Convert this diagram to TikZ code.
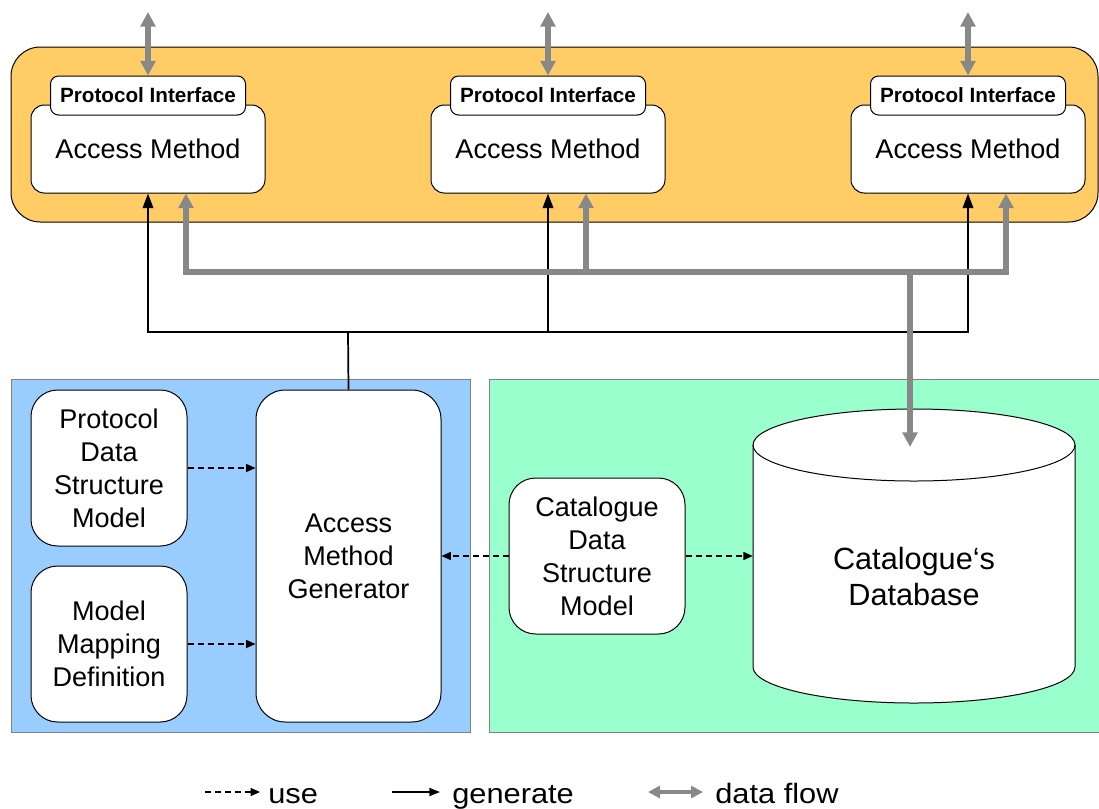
\documentclass[tikz,border=0pt]{standalone}
\usepackage{fontspec}
\setmainfont{Liberation Sans}
\usetikzlibrary{arrows.meta}
\definecolor{orangepanel}{RGB}{255,204,102}
\definecolor{bluepanel}{RGB}{153,204,255}
\definecolor{greenpanel}{RGB}{153,255,204}
\definecolor{flowgray}{RGB}{136,136,136}
\definecolor{panelborder}{RGB}{128,128,128}
\begin{document}
\begin{tikzpicture}[x=0.75pt,y=-0.75pt,
  ambox/.style={draw=black, fill=white, line width=0.75pt, rounded corners=10pt,
    minimum width=175.5pt, minimum height=66pt, inner sep=0pt,
    font=\fontsize{20.3}{24.75}\selectfont},
  pibox/.style={draw=black, fill=white, line width=0.75pt, rounded corners=6pt,
    minimum width=146.25pt, minimum height=29.25pt, inner sep=0pt,
    font=\fontsize{15.5}{18}\selectfont\bfseries},
  lowbox/.style={draw=black, fill=white, line width=0.75pt, rounded corners=20pt,
    inner sep=0pt, align=center, font=\fontsize{20.3}{24.75}\selectfont},
  gen/.style={draw=black, line width=1.3pt, -{Triangle[length=11pt,width=8pt]}},
  genline/.style={draw=black, line width=1.3pt},
  flow/.style={draw=flowgray, line width=3.8pt, -{Triangle[length=11pt,width=11pt]}},
  flowline/.style={draw=flowgray, line width=3.8pt},
  flowboth/.style={draw=flowgray, line width=3.8pt, {Triangle[length=11pt,width=11pt]}-{Triangle[length=11pt,width=11pt]}},
  usearrow/.style={draw=black, line width=1pt, dash pattern=on 4.5pt off 3pt, -{Triangle[length=7pt,width=6pt]}},
  legendtext/.style={anchor=base west, inner sep=0pt, font=\fontsize{21}{25}\selectfont, xscale=1.1}
]
\useasboundingbox (0,0) rectangle (1099,808);

% panels
\fill[orangepanel, draw=black, line width=0.75pt, rounded corners=22pt] (11,47) rectangle (1098,222);
\filldraw[fill=bluepanel, draw=panelborder, line width=0.75pt] (11,379) rectangle (470,732);
\filldraw[fill=greenpanel, draw=panelborder, line width=0.75pt] (489,379) rectangle (1102,732);

% access methods
\node[ambox] (am1) at (148,149) {\raisebox{-1.5pt}{Access Method}};
\node[ambox] (am2) at (548,149) {\raisebox{-1.5pt}{Access Method}};
\node[ambox] (am3) at (968,149) {\raisebox{-1.5pt}{Access Method}};
\node[pibox] (pi1) at (148,95.5) {Protocol Interface};
\node[pibox] (pi2) at (548,95.5) {Protocol Interface};
\node[pibox] (pi3) at (968,95.5) {Protocol Interface};

% external data flow
\coordinate (ext1) at (148,12);
\coordinate (ext2) at (548,12);
\coordinate (ext3) at (968,12);
\draw[flowboth] (ext1) -- (pi1.north);
\draw[flowboth] (ext2) -- (pi2.north);
\draw[flowboth] (ext3) -- (pi3.north);

% lower boxes
\node[lowbox, minimum width=117pt, minimum height=117pt] (pdsm) at (109,468) {Protocol\\Data\\Structure\\Model};
\node[lowbox, minimum width=117pt, minimum height=117pt] (mmd) at (109,644) {Model\\Mapping\\Definition};
\node[lowbox, rounded corners=22pt, minimum width=138.75pt, minimum height=249pt] (amg) at (348.5,556) {Access\\Method\\Generator};
\node[lowbox, minimum width=132pt, minimum height=117pt] (cdsm) at (597,556) {Catalogue\\Data\\Structure\\Model};

% cylinder
\filldraw[fill=white, draw=black, line width=0.75pt] (753,445) -- (753,667)
  arc[start angle=180, end angle=360, x radius=120.75pt, y radius=27pt]
  -- (1075,445)
  arc[start angle=0, end angle=180, x radius=120.75pt, y radius=27pt] -- cycle;
\draw[black, line width=0.75pt] (753,445) arc[start angle=180, end angle=360, x radius=120.75pt, y radius=27pt];
\node[inner sep=0pt, minimum width=241.5pt, align=center, font=\fontsize{23}{27}\selectfont] (db) at (914,577) {Catalogue‘s\\Database};

% generate connectors
\coordinate (gj) at (348,332);
\draw[genline] (amg.north) -- (gj);
\draw[gen] (gj) -| (am1.south);
\draw[gen] (gj) -| (am2.south);
\draw[gen] (gj) -| (am3.south);

% data flow connectors
\coordinate (dj) at (910,272);
\coordinate (dbtop) at (910,447);
\draw[flow] (dj) -| ([xshift=28.5pt]am1.south);
\draw[flow] (dj) -| ([xshift=28.5pt]am2.south);
\draw[flow] (dj) -| ([xshift=28.5pt]am3.south);
\draw[flow] (dj) -- (dbtop);

% use connectors
\draw[usearrow] (pdsm.east) -- (pdsm.east -| amg.west);
\draw[usearrow] (mmd.east) -- (mmd.east -| amg.west);
\draw[usearrow] (cdsm.west) -- (cdsm.west -| amg.east);
\draw[usearrow] (cdsm.east) -- (cdsm.east -| db.west);

% legend
\node[legendtext] (luse) at (268,803) {use};
\node[legendtext] (lgen) at (452,803) {generate};
\node[legendtext] (lflow) at (715,803) {data flow};
\coordinate (lu0) at (205,792);
\coordinate (lu1) at (260,792);
\coordinate (lg0) at (392,792);
\coordinate (lg1) at (440,792);
\coordinate (lf0) at (648,792);
\coordinate (lf1) at (703,792);
\draw[usearrow, line width=0.9pt] (lu0) -- (lu1);
\draw[gen, line width=1.2pt, -{Triangle[length=8pt,width=6pt]}] (lg0) -- (lg1);
\draw[flowboth, line width=3pt, {Triangle[length=9pt,width=9pt]}-{Triangle[length=9pt,width=9pt]}] (lf0) -- (lf1);
\end{tikzpicture}
\end{document}
